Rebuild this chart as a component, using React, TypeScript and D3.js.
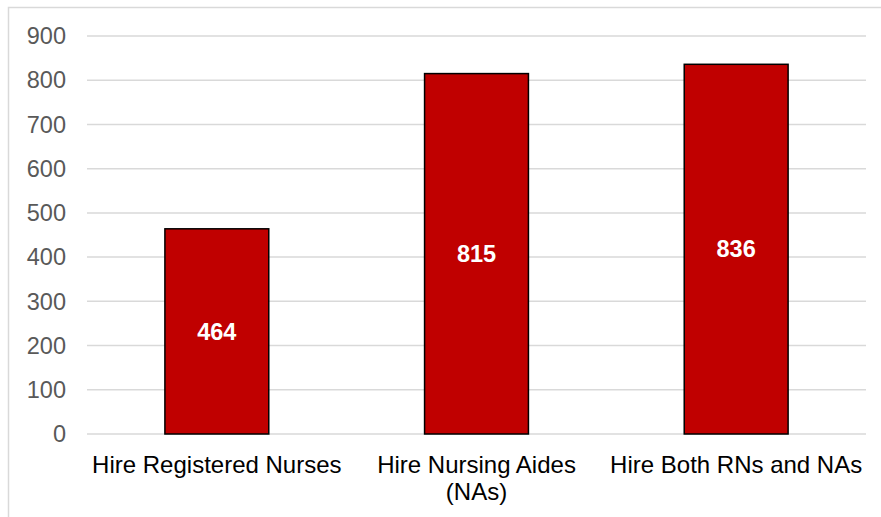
import React from "react";
import * as d3 from "d3";

const categories: string[][] = [
  ["Hire Registered Nurses"],
  ["Hire Nursing Aides", "(NAs)"],
  ["Hire Both RNs and NAs"],
];
const values: number[] = [464, 815, 836];
const yTicks: number[] = [0, 100, 200, 300, 400, 500, 600, 700, 800, 900];

const W = 881;
const H = 517;
const FONT = "'Liberation Sans', Arial, sans-serif";

export default function App() {
  const plotLeft = 87;
  const plotRight = 866;
  const plotTop = 36;
  const plotBottom = 434;

  const x = d3
    .scaleBand<number>()
    .domain(values.map((_, i) => i))
    .range([plotLeft, plotRight])
    .paddingInner(0.6)
    .paddingOuter(0.3);
  const y = d3.scaleLinear().domain([0, 900]).range([plotBottom, plotTop]);

  return (
    <svg
      width={W}
      height={H}
      style={{ position: "absolute", left: 0, top: 0, display: "block", background: "#fff" }}
      fontFamily={FONT}
    >
      <rect x={8.5} y={7.5} width={W + 20} height={H + 20} fill="#fff" stroke="#d9d9d9" strokeWidth={1.5} />
      {yTicks.map((t) => (
        <g key={t}>
          <line x1={plotLeft} x2={plotRight} y1={y(t)} y2={y(t)} stroke="#d9d9d9" strokeWidth={1.5} />
          <text x={66} y={y(t)} dy="0.35em" textAnchor="end" fontSize={23.5} fill="#595959">
            {t}
          </text>
        </g>
      ))}
      {values.map((v, i) => {
        const bx = x(i)!;
        const bw = x.bandwidth();
        return (
          <g key={i}>
            <rect x={bx} y={y(v)} width={bw} height={y(0) - y(v)} fill="#c00000" stroke="#000" strokeWidth={1.5} />
            <text
              x={bx + bw / 2}
              y={(y(v) + y(0)) / 2}
              dy="0.35em"
              textAnchor="middle"
              fontSize={23.5}
              fontWeight="bold"
              fill="#fff"
            >
              {v}
            </text>
          </g>
        );
      })}
      {categories.map((lines, i) => (
        <text key={i} x={x(i)! + x.bandwidth() / 2} y={465} textAnchor="middle" fontSize={24} fill="#000">
          {lines.map((l, j) => (
            <tspan key={j} x={x(i)! + x.bandwidth() / 2} dy={j === 0 ? "0.35em" : 27}>
              {l}
            </tspan>
          ))}
        </text>
      ))}
    </svg>
  );
}
